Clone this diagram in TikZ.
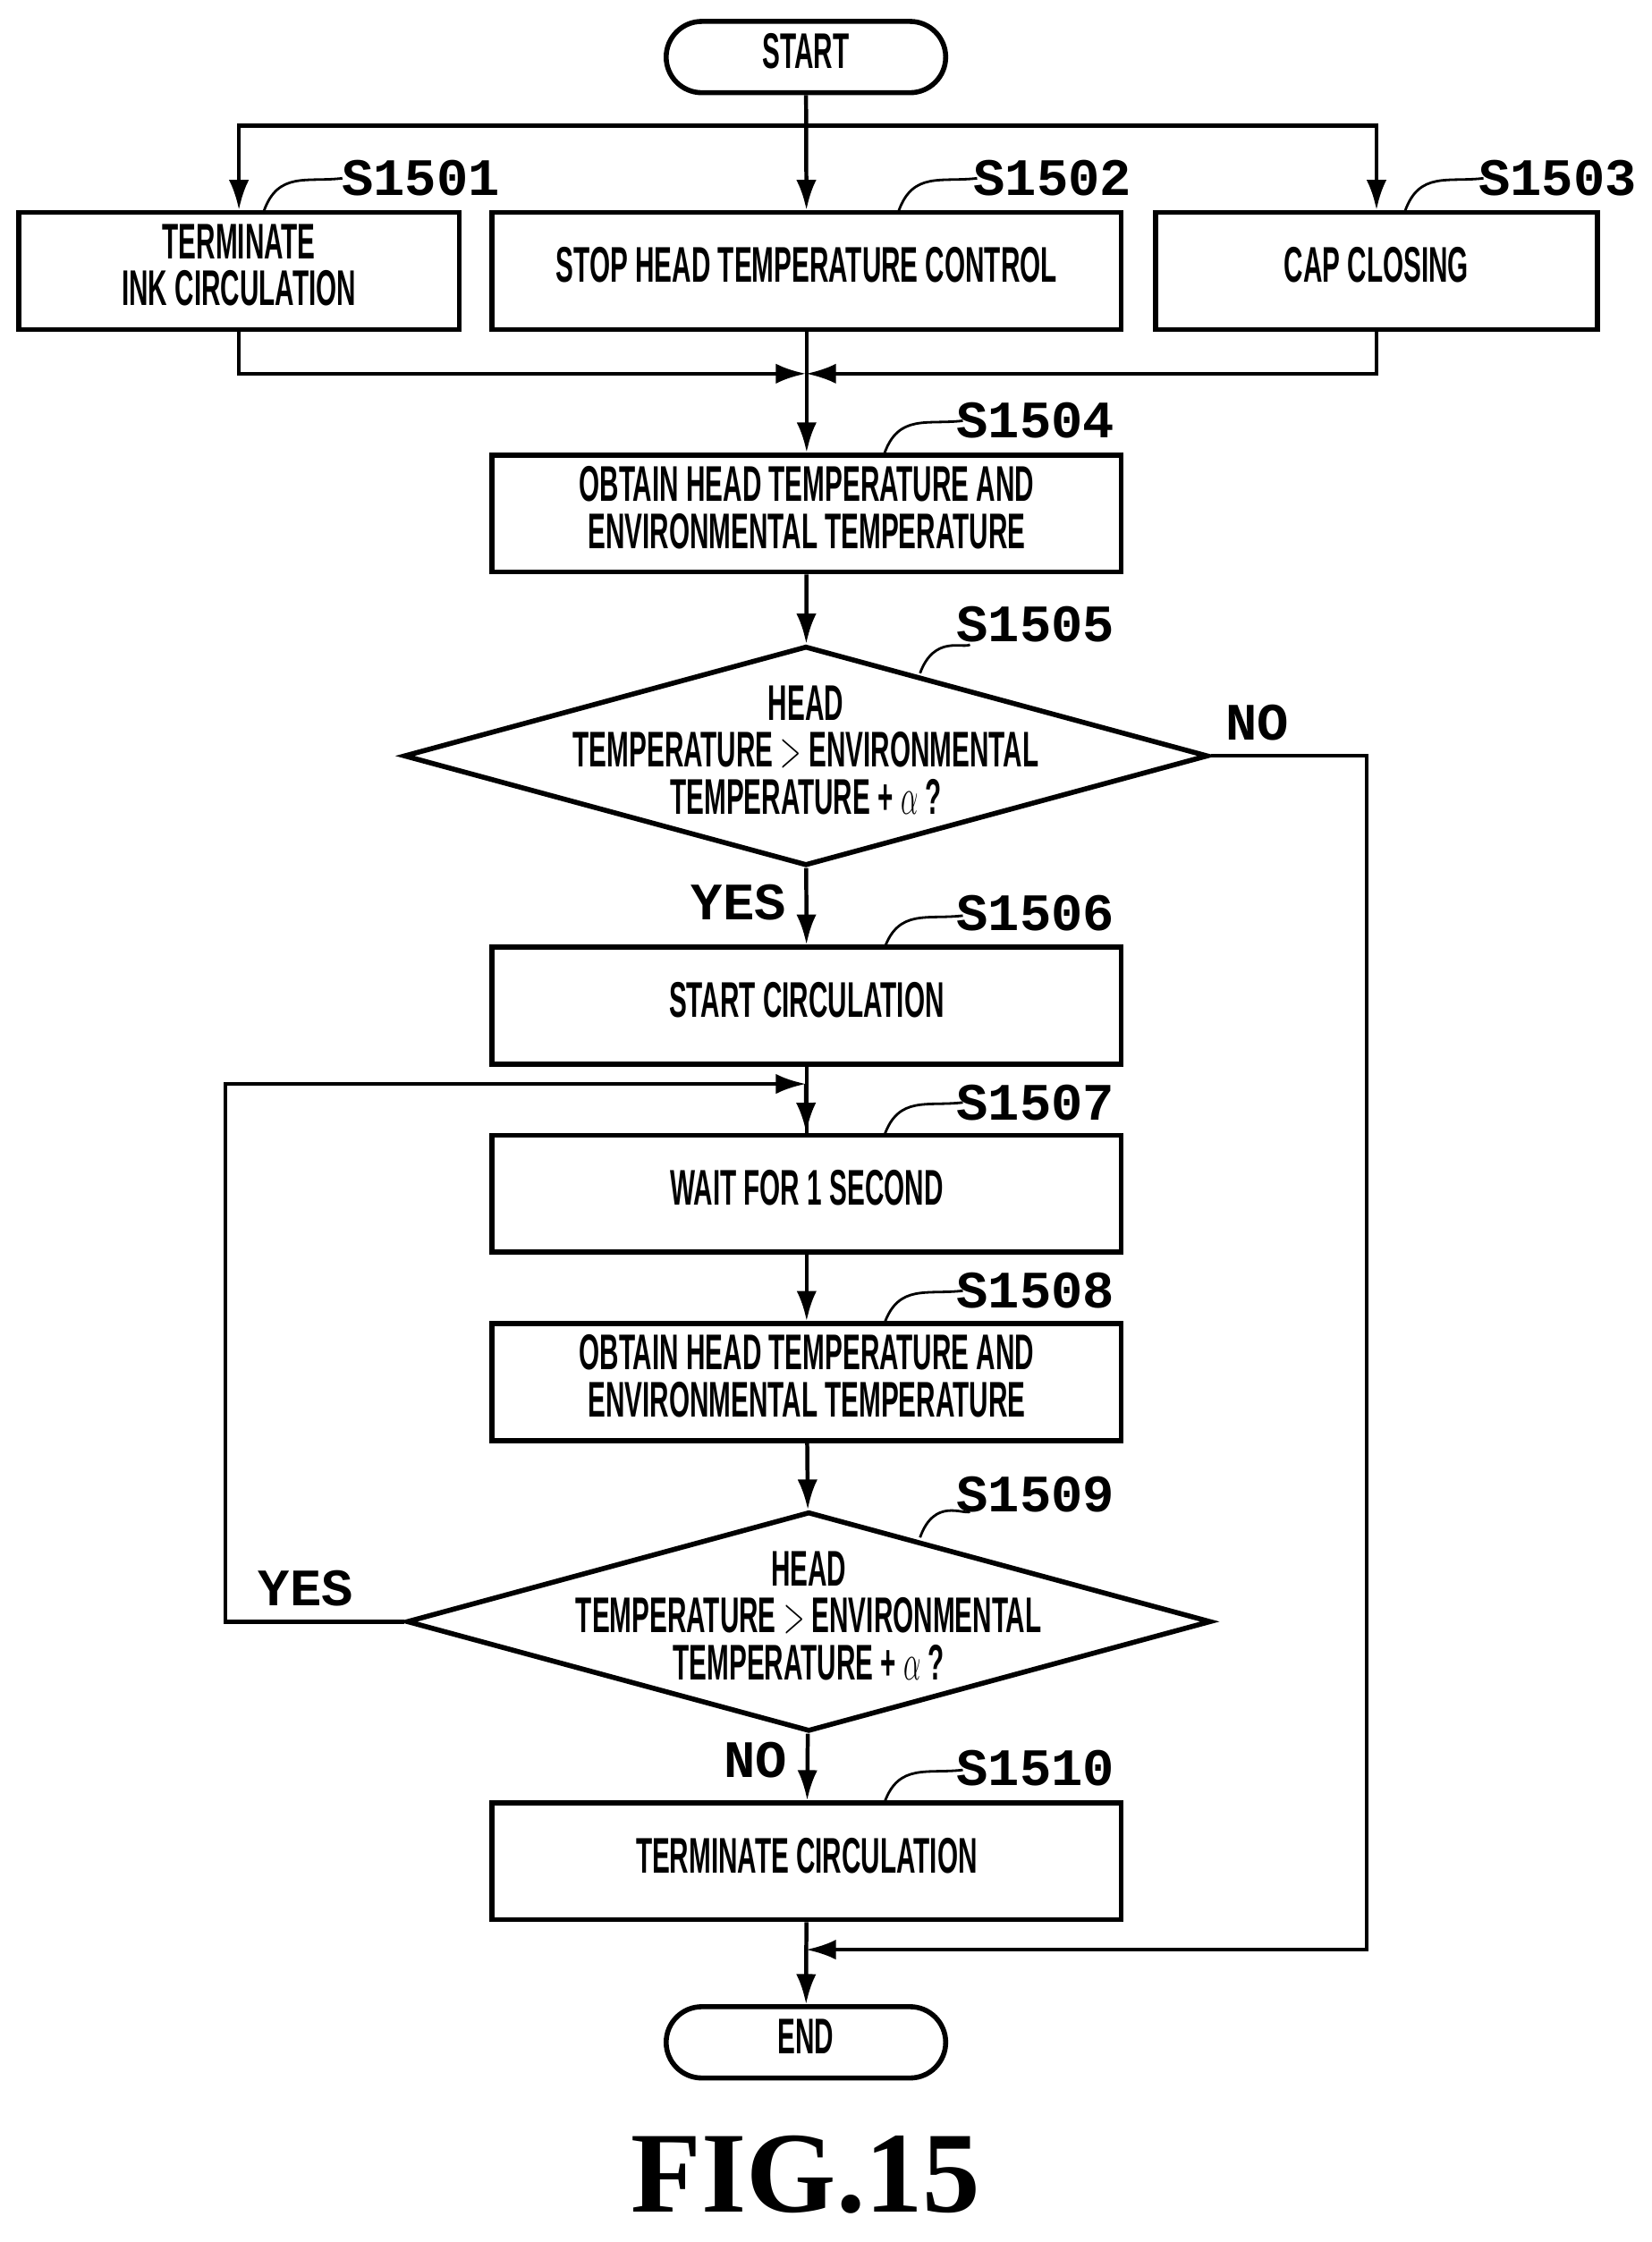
\documentclass[tikz,border=0pt]{standalone}
\usepackage{fontspec}
\setmainfont{Liberation Serif}
\newfontfamily\boxf{Liberation Sans}
\newfontfamily\labf{Liberation Mono}
\usetikzlibrary{shapes.geometric,arrows.meta}
\newcommand\nt[1]{\scalebox{0.53}[1]{\begin{tabular}{@{}c@{}}#1\end{tabular}}}
\begin{document}
\begin{tikzpicture}[x=0.02cm,y=-0.02cm,
  every path/.style={line width=1.6pt},
  box/.style={draw,line width=2pt,minimum height=1.64cm,align=center,font=\boxf\bfseries\fontsize{20}{16}\selectfont,inner sep=0},
  term/.style={draw,line width=2pt,rounded corners=0.5cm,minimum width=3.92cm,minimum height=1cm,font=\boxf\bfseries\fontsize{20}{16}\selectfont},
  dia/.style={draw,line width=2pt,diamond,aspect=3.66,minimum width=11.28cm,minimum height=3.08cm,inner sep=0},
  dtxt/.style={font=\boxf\bfseries\fontsize{20}{16}\selectfont,inner sep=0},
  lab/.style={font=\labf\bfseries\fontsize{21}{22}\selectfont},
  arr/.style={-{Latex[length=12pt,width=8pt]}},
  tl/.style={line width=1pt}]
\useasboundingbox (0,0) rectangle (1158,1572);
\node[term] (start) at (565,40) {\nt{START}};
\node[box,minimum width=6.18cm] (b1) at (167.5,190) {\nt{TERMINATE\\INK CIRCULATION}};
\node[box,minimum width=8.82cm] (b2) at (565.5,190) {\nt{STOP HEAD TEMPERATURE CONTROL}};
\node[box,minimum width=6.2cm] (b3) at (965,190) {\nt{CAP CLOSING}};
\node[box,minimum width=8.82cm] (b4) at (565.5,360) {\nt{OBTAIN HEAD TEMPERATURE AND\\ENVIRONMENTAL TEMPERATURE}};
\node[dia] (d5) at (565,530) {};
\node[dtxt] (t5) at (565,530) {\nt{HEAD\\TEMPERATURE $>$ ENVIRONMENTAL\\TEMPERATURE + $\alpha$ ?}};
\node[box,minimum width=8.82cm] (b6) at (565.5,705) {\nt{START CIRCULATION}};
\node[box,minimum width=8.82cm] (b7) at (565.5,837) {\nt{WAIT FOR 1 SECOND}};
\node[box,minimum width=8.82cm] (b8) at (565.5,969) {\nt{OBTAIN HEAD TEMPERATURE AND\\ENVIRONMENTAL TEMPERATURE}};
\node[dia] (d9) at (567,1137) {};
\node[dtxt] (t9) at (567,1137) {\nt{HEAD\\TEMPERATURE $>$ ENVIRONMENTAL\\TEMPERATURE + $\alpha$ ?}};
\node[box,minimum width=8.82cm] (b10) at (565.5,1305) {\nt{TERMINATE CIRCULATION}};
\node[term] (end) at (565,1432) {\nt{END}};
\node[font=\bfseries\fontsize{46}{50}\selectfont] (fig) at (565,1525) {FIG.15};
% step labels
\foreach \x/\y/\t in {295/125/S1501,738/125/S1502,1092/125/S1503,726/295/S1504,726/640/S1506,726/773/S1507,726/905/S1508,726/1240/S1510,726/438/S1505,726/1048/S1509}{
  \node[lab] at (\x,\y) {\t};}
\foreach \a/\b in {185/148,630/148,985/148,620/318,620/665,620/796,620/928,620/1264}{
  \draw[tl] (\a,\b) .. controls (\a+10,\b-28) and (\a+30,\b-20) .. (\a+55,\b-23);}
\draw[tl] (645,472) .. controls (655,445) and (675,455) .. (680,452);
\draw[tl] (645,1078) .. controls (655,1050) and (675,1062) .. (680,1060);
% connectors
\coordinate (top) at (565,88);
\draw[arr] (start) -- (b2);
\draw[arr] (top) -| (b1);
\draw[arr] (top) -| (b3);
\coordinate (m) at (565,262);
\draw[arr] (b1.south) |- (m);
\draw[arr] (b3.south) |- (m);
\draw[arr] (b2) -- (b4);
\draw[arr] (b4) -- (d5);
\draw[arr] (d5) -- node[lab,pos=0.45,left=4pt]{YES} (b6);
\draw (b6) -- (b7);
\draw[arr] (b7) -- (b8);
\draw[arr] (b8) -- (d9);
\draw[arr] (d9) -- node[lab,pos=0.4,left=4pt]{NO} (b10);
\draw[arr] (b10) -- (end);
\coordinate (j1) at (565,760);
\draw[arr] (d9.west) -- node[lab,pos=0.55,above=2pt]{YES} (158,1137) |- (j1);
\draw[arr] (j1) -- (b7);
\coordinate (j2) at (565,1367);
\draw[arr] (d5.east) -- node[lab,pos=0.3,above=2pt]{NO} (958,530) |- (j2);
\end{tikzpicture}
\end{document}
